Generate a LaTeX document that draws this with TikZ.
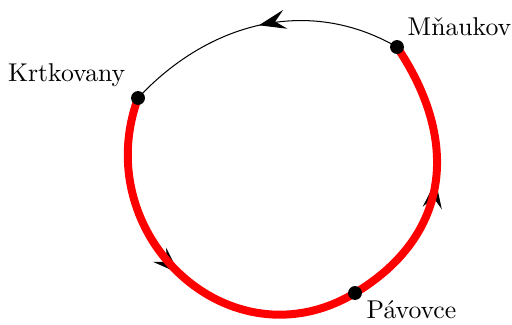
\documentclass[tikz,border=0pt]{standalone}
\usepackage{fontspec}
\usetikzlibrary{arrows.meta, decorations.markings, backgrounds}

\tikzset{
  town/.style={circle, fill=black, inner sep=0pt, minimum size=5.4pt},
  route/.style={red, line width=3.1pt},
  midarrow/.style={postaction={decorate}, decoration={markings,
      mark=at position #1 with {\arrow{Stealth[length=10.5pt, width=7.5pt, inset=4pt]}}}}
}

\begin{document}
\begin{tikzpicture}[line width=0.5pt]
	\useasboundingbox (0,0) rectangle (7,-4.443);

	% towns
	\node[town] (M) at (5.428,-0.643) {};
	\node[town] (K) at (1.887,-1.340) {};
	\node[town] (P) at (4.854,-4.006) {};

	\node[anchor=base west, inner sep=0pt] (lM) at ([xshift=3.9pt, yshift=4.3pt]M.center) {Mňaukov};
	\node[anchor=base east, inner sep=0pt] (lK) at ([xshift=-4.7pt, yshift=6.3pt]K.center) {Krtkovany};
	\node[anchor=base west, inner sep=0pt] (lP) at ([xshift=4.3pt, yshift=-10.1pt]P.center) {Pávovce};

	\begin{scope}[on background layer]
		% the whole loop
		\draw[midarrow=0.5] (M.center) to[out=150, in=47] (K.center);
		\draw[midarrow=0.5] (K.center) to[out=250, in=211, looseness=1.28] (P.center);
		\draw[midarrow=0.5] (P.center) to[out=31, in=304, looseness=1.15] (M.center);

		% the red way
		\draw[route] (K.center) to[out=250, in=211, looseness=1.28] (P.center)
			to[out=31, in=304, looseness=1.15] (M.center);
	\end{scope}
\end{tikzpicture}
\end{document}
